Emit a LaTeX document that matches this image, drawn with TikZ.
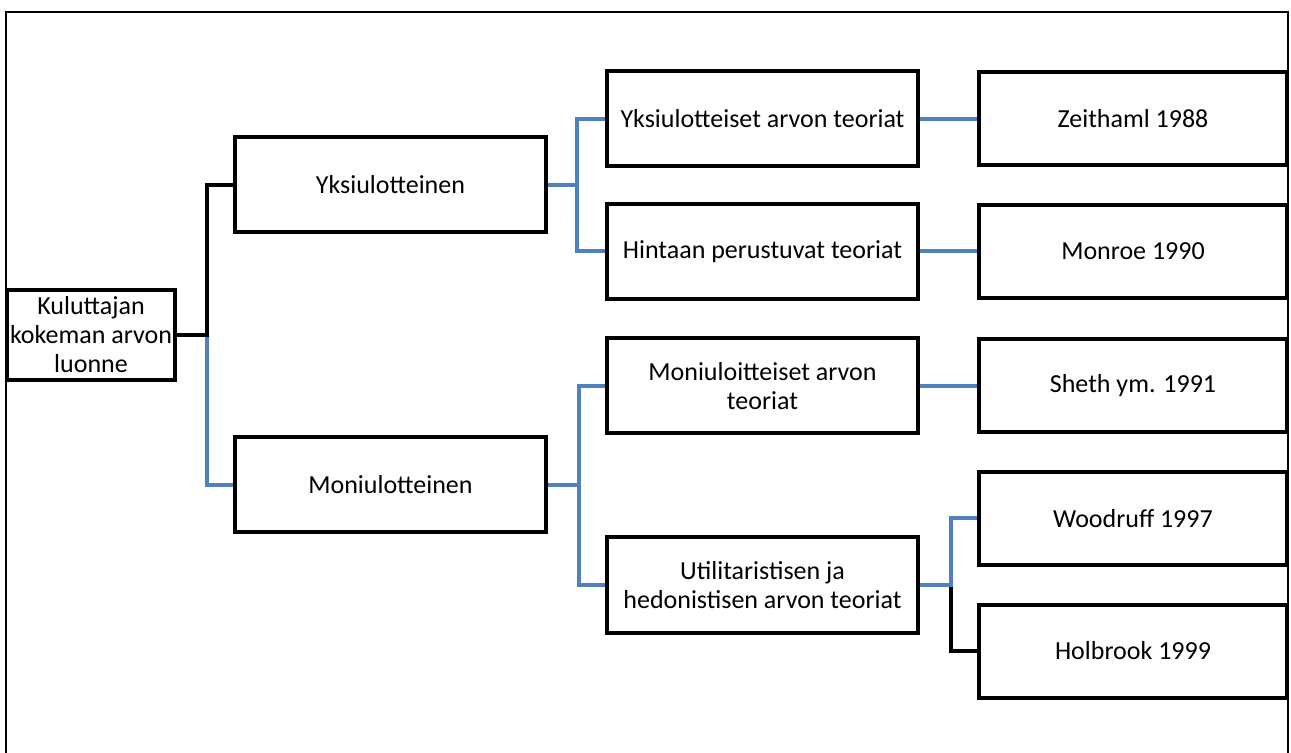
\documentclass[tikz,border=0pt]{standalone}
\usepackage{fontspec}
\setmainfont{Carlito}
\usepackage{tikz}
\usetikzlibrary{positioning, calc}
\definecolor{linkblue}{HTML}{4F81BD}
\tikzset{
  box/.style={draw, line width=2pt, inner sep=0pt, align=center,
    font=\fontsize{13pt}{14.5pt}\selectfont},
  rootbox/.style={box, minimum width=84pt, minimum height=45pt},
  midbox/.style={box, minimum width=155.5pt, minimum height=47.5pt},
  leafbox/.style={box, minimum width=154pt, minimum height=46.5pt},
  link/.style={line width=2pt, linkblue},
  blacklink/.style={line width=2pt, black}
}

\begin{document}
\begin{tikzpicture}[x=0.5pt,y=-0.5pt]
\useasboundingbox (0,0) rectangle (1291,753);
\draw[line width=0.7pt] (6,12) rectangle (1288,754);

\node[rootbox] (root) at (91,335) {Kuluttajan\\kokeman arvon\\luonne};
\node[midbox] (yksi) at (390.5,185) {Yksiulotteinen};
\node[midbox] (moni) at (390.5,485) {Moniulotteinen};
\node[midbox] (yteo) at (762.5,119) {Yksiulotteiset arvon teoriat};
\node[midbox] (hinta) at (762.5,251.5) {Hintaan perustuvat teoriat};
\node[midbox] (mteo) at (762.5,386) {Moniuloitteiset arvon\\teoriat};
\node[midbox] (util) at (762.5,585) {Utilitaristisen ja\\hedonistisen arvon teoriat};
\node[leafbox] (zeit) at (1133,119) {Zeithaml 1988};
\node[leafbox] (monr) at (1133,251.5) {Monroe 1990};
\node[leafbox] (shet) at (1133,386) {Sheth ym. 1991};
\node[leafbox] (wood) at (1133,518.5) {Woodruff 1997};
\node[leafbox] (holb) at (1133,651) {Holbrook 1999};

\draw[link] ($(root.east)+(30,0)$) |- (moni.west);
\draw[blacklink] (root.east) -- ++(30,0) |- (yksi.west);
\draw[link] (yksi.east) -- ++(29,0) |- (yteo.west);
\draw[link] (yksi.east) -- ++(29,0) |- (hinta.west);
\draw[link] (moni.east) -- ++(31,0) |- (mteo.west);
\draw[link] (moni.east) -- ++(31,0) |- (util.west);
\draw[link] (yteo.east) -- (zeit.west);
\draw[link] (hinta.east) -- (monr.west);
\draw[link] (mteo.east) -- (shet.west);
\draw[blacklink] ($(util.east)+(31,0)$) |- (holb.west);
\draw[link] (util.east) -- ++(31,0) |- (wood.west);
\end{tikzpicture}
\end{document}
